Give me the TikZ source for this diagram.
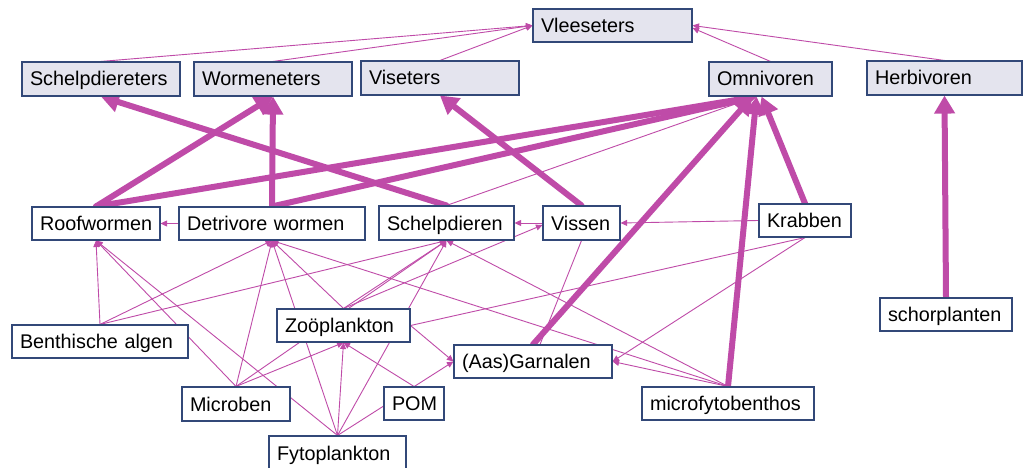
\documentclass[tikz,border=0pt]{standalone}
\usepackage{fontspec}
\setmainfont{Liberation Sans}
\usetikzlibrary{arrows.meta,backgrounds}
\definecolor{feed}{RGB}{191,75,168}
\definecolor{boxline}{RGB}{50,72,120}
\definecolor{guildfill}{RGB}{228,228,238}
\tikzset{
  box/.style={draw=boxline, line width=1.1pt, inner xsep=8pt, inner ysep=0pt,
    text height=14pt, text depth=0pt, align=left,
    font=\fontsize{19.8}{22}\selectfont},
  guild/.style={box, fill=guildfill},
  taxon/.style={box, fill=white},
  flow/.style={draw=feed, line width=0.9pt, -{Triangle[length=6.5pt,width=6pt]}},
  link/.style={draw=feed, line width=0.9pt},
  bigflow/.style={draw=feed, line width=6pt, line cap=round,
    -{Triangle[length=18pt,width=20pt]}},
}
\begin{document}
\begin{tikzpicture}[x=1pt, y=-1pt]
\useasboundingbox (0,0) rectangle (1023,468);
\clip (0,0) rectangle (1023,468);

% feeding guilds
\node[guild, minimum width=159pt, minimum height=33pt, text width=143pt] (vlees) at (612.5,25.5) {Vleeseters};
\node[guild, minimum width=158pt, minimum height=34pt, text width=142pt] (schelpE) at (101,79) {Schelpdiereters};
\node[guild, minimum width=158pt, minimum height=34pt, text width=142pt] (wormE) at (273,79) {Wormeneters};
\node[guild, minimum width=158pt, minimum height=34pt, text width=142pt] (visE) at (440,78) {Viseters};
\node[guild, minimum width=123pt, minimum height=34pt, text width=107pt] (omni) at (770.5,79) {Omnivoren};
\node[guild, minimum width=155pt, minimum height=34pt, text width=139pt] (herbi) at (944.5,78) {Herbivoren};

% organisms
\node[taxon, minimum width=128pt, minimum height=33pt, text width=112pt] (roof) at (96,223.5) {Roofwormen};
\node[taxon, minimum width=186pt, minimum height=33pt, text width=170pt] (detri) at (272,223.5) {Detrivore wormen};
\node[taxon, minimum width=135pt, minimum height=34pt, text width=119pt] (schelp) at (446.5,223) {Schelpdieren};
\node[taxon, minimum width=77pt, minimum height=34pt, text width=61pt] (vissen) at (581.5,223) {Vissen};
\node[taxon, minimum width=92pt, minimum height=33pt, text width=76pt] (krab) at (805,220.5) {Krabben};
\node[taxon, minimum width=132pt, minimum height=33pt, text width=116pt] (schor) at (946,314.5) {schorplanten};
\node[taxon, minimum width=176pt, minimum height=33pt, text width=160pt] (benth) at (100,341.5) {Benthische algen};
\node[taxon, minimum width=133pt, minimum height=33pt, text width=117pt] (zoo) at (343.5,325.5) {Zoöplankton};
\node[taxon, minimum width=158pt, minimum height=33pt, text width=142pt] (garn) at (533,361.5) {(Aas)Garnalen};
\node[taxon, minimum width=108pt, minimum height=34pt, text width=92pt] (micro) at (236,404) {Microben};
\node[taxon, minimum width=60pt, minimum height=33pt, text width=44pt] (pom) at (414,403.5) {POM};
\node[taxon, minimum width=172pt, minimum height=33pt, text width=156pt] (mfb) at (728,403.5) {microfytobenthos};
\node[taxon, minimum width=137pt, minimum height=34pt, text width=121pt] (fyto) at (337.5,453) {Fytoplankton};

\coordinate (omnitip) at ([xshift=-14pt]omni.south);
\coordinate (vleesR) at ([yshift=-2.5pt]vlees.east);
\coordinate (vissenL) at ([yshift=-2pt]vissen.west);
\coordinate (garnTop) at ([xshift=7pt]garn.north);

\begin{pgfonlayer}{background}
\fill[white] (0,0) rectangle (1023,468);

% guilds feeding the carnivores
\draw[flow] (schelpE.north) -- (vlees.west);
\draw[flow] (wormE.north) -- (vlees.west);
\draw[flow] (visE.north) -- (vlees.west);
\draw[flow] (omni.north) -- (vleesR);
\draw[flow] (herbi.north) -- (vlees.east);

% minor food flows
\draw[flow] (detri.west) -- (roof.east);
\draw[flow] (vissen.west) -- (schelp.east);
\draw[flow] (krab.west) -- (vissen.east);
\draw[flow] (schelp.north) -- (omnitip);
\draw[flow] (benth.north) -- (roof.south);
\draw[flow] (benth.north) -- (detri.south);
\draw[flow] (benth.north) -- (schelp.south);
\draw[flow] (micro.north) -- (roof.south);
\draw[flow] (micro.north) -- (detri.south);
\draw[flow] (micro.north) -- (schelp.south);
\draw[flow] (micro.north) -- (zoo.south);
\draw[flow] (fyto.north) -- (roof.south);
\draw[flow] (fyto.north) -- (detri.south);
\draw[flow] (fyto.north) -- (schelp.south);
\draw[flow] (fyto.north) -- (zoo.south);
\draw[flow] (fyto.north) -- (garn.west);
\draw[flow] (pom.north) -- (zoo.south);
\draw[flow] (zoo.north) -- (detri.south);
\draw[flow] (zoo.north) -- (schelp.south);
\draw[flow] (zoo.north) -- (vissenL);
\draw[flow] (zoo.east) -- (garn.west);
\draw[link] (zoo.east) -- (krab.south);
\draw[flow] (krab.south) -- (garn.east);
\draw[flow] (mfb.north) -- (garn.east);
\draw[flow] (mfb.north) -- (detri.south);
\draw[flow] (mfb.north) -- (schelp.south);
\draw[link] (vissen.south) -- (garnTop);

% major food flows
\draw[bigflow] (roof.north) -- (wormE.south);
\draw[bigflow] (detri.north) -- (wormE.south);
\draw[bigflow] (roof.north) -- (omnitip);
\draw[bigflow] (detri.north) -- (omnitip);
\draw[bigflow] (schelp.north) -- (schelpE.south);
\draw[bigflow] (vissen.north) -- (visE.south);
\draw[bigflow] (garn.north) -- ([xshift=-4pt]omnitip);
\draw[bigflow] (mfb.north) -- (omnitip);
\draw[bigflow] (krab.north) -- ([xshift=5pt]omnitip);
\draw[bigflow] (schor.north) -- (herbi.south);
\end{pgfonlayer}
\end{tikzpicture}
\end{document}
